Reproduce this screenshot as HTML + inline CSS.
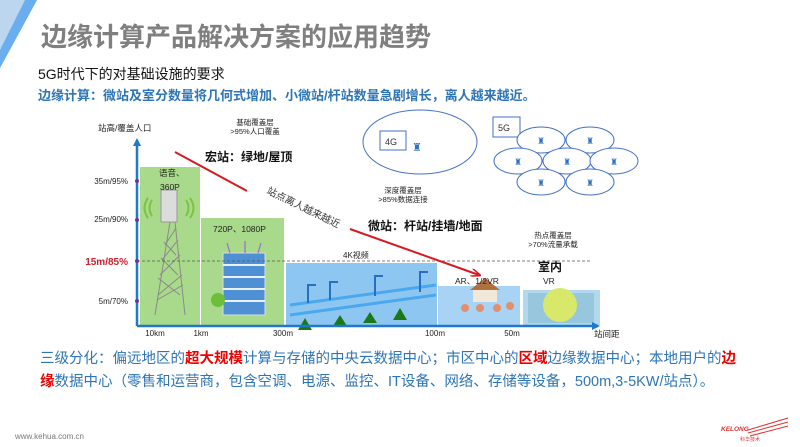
<!DOCTYPE html>
<html><head><meta charset="utf-8"><style>
html,body{margin:0;padding:0;background:#fff;}
svg{display:block;font-family:"Liberation Sans","Noto Sans CJK SC",sans-serif;}
</style></head><body>
<svg width="800" height="447" viewBox="0 0 800 447" xmlns="http://www.w3.org/2000/svg">
<defs>
<marker id="ab" markerWidth="8" markerHeight="8" refX="6" refY="4" orient="auto" markerUnits="userSpaceOnUse"><path d="M0,0 L8,4 L0,8 z" fill="#1f78c8"/></marker>
<marker id="ar" markerWidth="10" markerHeight="8" refX="8" refY="4" orient="auto" markerUnits="userSpaceOnUse"><path d="M0,0 L10,4 L0,8" fill="none" stroke="#d71920" stroke-width="1.5"/></marker>
</defs>
<polygon points="0,0 37,0 0,68" fill="#bcd6f0"/>
<polygon points="25,0 37,0 0,68 0,50" fill="#6aaef0"/>
<text x="41" y="46" font-size="26" font-weight="bold" fill="#7f7f7f">边缘计算产品解决方案的应用趋势</text>
<text x="38" y="79" font-size="14" fill="#111">5G时代下的对基础设施的要求</text>
<text x="38" y="100" font-size="13" font-weight="bold" fill="#2e75b6">边缘计算：微站及室分数量将几何式增加、小微站/杆站数量急剧增长，离人越来越近。</text>

<rect x="140" y="167" width="60" height="158" fill="#a9d98a"/>
<rect x="201" y="218" width="83" height="107" fill="#a9d98a"/>
<rect x="286" y="263" width="151" height="62" fill="#8ec6f2"/>
<rect x="438" y="286" width="82" height="39" fill="#a9d3f5"/>
<rect x="523" y="290" width="77" height="35" fill="#b3d8ee"/>
<g stroke="#8a8a8a" stroke-width="1" fill="none">
<line x1="170" y1="222" x2="155" y2="315"/><line x1="175" y1="222" x2="185" y2="315"/>
<path d="M158,295 L182,275 M157,300 L183,285 M160,275 L180,255 M162,260 L178,240 M165,245 L176,228 M180,295 L158,278 M178,275 L161,258 M176,255 L164,242"/>
</g>
<rect x="161" y="190" width="16" height="32" fill="#dcdcdc" stroke="#999"/>
<path d="M152,200 q-5,8 0,16 M148,198 q-7,10 0,20 M186,200 q5,8 0,16 M190,198 q7,10 0,20" stroke="#7dc241" stroke-width="2" fill="none"/>
<rect x="223" y="253" width="42" height="62" fill="#4f8fd4" stroke="#ddd"/>
<g stroke="#e8f0f8" stroke-width="2"><line x1="223" y1="265" x2="265" y2="265"/><line x1="223" y1="277" x2="265" y2="277"/><line x1="223" y1="289" x2="265" y2="289"/><line x1="223" y1="301" x2="265" y2="301"/></g>
<circle cx="218" cy="300" r="7" fill="#6cbf3a"/>
<path d="M230,253 l-3,-10 M245,253 l0,-12 M258,253 l3,-10" stroke="#9b6fc6" stroke-width="1.2"/>
<path d="M290,305 L436,285 M290,315 L436,295" stroke="#4aa8ee" stroke-width="3"/>
<g fill="#1a7a1a"><polygon points="305,318 298,330 312,330"/><polygon points="340,315 333,326 347,326"/><polygon points="370,312 363,323 377,323"/><polygon points="400,308 393,320 407,320"/></g>
<g stroke="#2a6fbf" stroke-width="2" fill="none"><path d="M308,303 v-18 h8 M330,300 v-18 h8 M375,296 v-20 h8 M420,292 v-20 h8"/></g>
<polygon points="470,290 485,278 500,290" fill="#b07040"/><rect x="473" y="290" width="24" height="12" fill="#f0e8d8"/>
<g fill="#e0906a"><circle cx="465" cy="308" r="4"/><circle cx="480" cy="308" r="4"/><circle cx="497" cy="308" r="4"/><circle cx="510" cy="306" r="4"/></g>
<rect x="528" y="293" width="66" height="30" fill="#8fc3d8" opacity="0.8"/>
<circle cx="560" cy="305" r="17" fill="#d7e86a"/>
<line x1="137" y1="261" x2="592" y2="261" stroke="#555" stroke-dasharray="3,2" stroke-width="0.8"/>
<line x1="137" y1="326" x2="137" y2="140" stroke="#1f78c8" stroke-width="2.5" marker-end="url(#ab)"/>
<line x1="137" y1="326" x2="598" y2="326" stroke="#1f78c8" stroke-width="2.5" marker-end="url(#ab)"/>
<g fill="#7030a0"><circle cx="137" cy="181" r="2"/><circle cx="137" cy="220" r="2"/><circle cx="137" cy="261" r="2"/><circle cx="137" cy="301" r="2"/></g>
<g font-size="8" fill="#222" text-anchor="end">
<text x="128" y="184">35m/95%</text><text x="128" y="222">25m/90%</text><text x="128" y="304">5m/70%</text>
</g>
<text x="128" y="265" font-size="10" font-weight="bold" fill="#d02030" text-anchor="end">15m/85%</text>
<text x="98" y="131" font-size="8.5" fill="#222">站高/覆盖人口</text>
<g font-size="8" fill="#222" text-anchor="middle">
<text x="155" y="336">10km</text><text x="201" y="336">1km</text><text x="283" y="336">300m</text><text x="435" y="336">100m</text><text x="512" y="336">50m</text>
</g>
<text x="594" y="337" font-size="8.5" fill="#222">站间距</text>
<g font-size="7.5" fill="#222" text-anchor="middle">
<text x="255" y="125">基础覆盖层</text><text x="255" y="134">&gt;95%人口覆盖</text>
<text x="403" y="193">深度覆盖层</text><text x="403" y="202">&gt;85%数据连接</text>
<text x="553" y="238">热点覆盖层</text><text x="553" y="247">&gt;70%流量承载</text>
</g>
<text x="205" y="161" font-size="12" font-weight="bold" fill="#111">宏站：绿地/屋顶</text>
<text x="368" y="230" font-size="12" font-weight="bold" fill="#111">微站：杆站/挂墙/地面</text>
<text x="538" y="271" font-size="12" font-weight="bold" fill="#111">室内</text>
<text x="159" y="176" font-size="8.5" fill="#222">语音、</text><text x="160" y="190" font-size="8.5" fill="#222">360P</text>
<text x="213" y="232" font-size="8.5" fill="#222">720P、1080P</text>
<text x="343" y="258" font-size="8" fill="#222">4K视频</text>
<text x="455" y="284" font-size="8.5" fill="#222">AR、1/2VR</text>
<text x="543" y="284" font-size="8.5" fill="#222">VR</text>
<text x="266" y="193" font-size="10" fill="#333" transform="rotate(26 266 193)">站点离人越来越近</text>
<line x1="175" y1="152" x2="247" y2="191" stroke="#d71920" stroke-width="2"/>
<line x1="350" y1="229" x2="479" y2="275" stroke="#d71920" stroke-width="2" marker-end="url(#ar)"/>
<ellipse cx="420" cy="142" rx="57" ry="32" fill="none" stroke="#4472c4" stroke-width="1"/>
<rect x="380" y="131" width="26" height="19" fill="#fff" stroke="#4472c4"/>
<text x="385" y="145" font-size="9" fill="#333">4G</text>
<text x="412" y="151" font-size="11" fill="#2e6fc0">♜</text>
<rect x="493" y="117" width="27" height="20" fill="#fff" stroke="#4472c4"/>
<text x="498" y="131" font-size="9" fill="#333">5G</text>
<g fill="#fff" stroke="#4472c4" stroke-width="1">
<ellipse cx="541" cy="140" rx="24" ry="13"/><ellipse cx="590" cy="140" rx="24" ry="13"/>
<ellipse cx="518" cy="161" rx="24" ry="13"/><ellipse cx="567" cy="161" rx="24" ry="13"/><ellipse cx="614" cy="161" rx="24" ry="13"/>
<ellipse cx="541" cy="182" rx="24" ry="13"/><ellipse cx="590" cy="182" rx="24" ry="13"/>
</g>
<g font-size="9" fill="#2e6fc0" text-anchor="middle">
<text x="541" y="144">♜</text><text x="590" y="144">♜</text><text x="518" y="165">♜</text><text x="567" y="165">♜</text><text x="614" y="165">♜</text><text x="541" y="186">♜</text><text x="590" y="186">♜</text>
</g>
<text x="40" y="363" font-size="14.5" fill="#2e75b6">三级分化：偏远地区的<tspan fill="#e00" font-weight="bold">超大规模</tspan>计算与存储的中央云数据中心；市区中心的<tspan fill="#e00" font-weight="bold">区域</tspan>边缘数据中心；本地用户的<tspan fill="#e00" font-weight="bold">边</tspan></text>
<text x="40" y="386" font-size="14.5" fill="#2e75b6"><tspan fill="#e00" font-weight="bold">缘</tspan>数据中心（零售和运营商，包含空调、电源、监控、IT设备、网络、存储等设备，500m,3-5KW/站点）。</text>
<text x="15" y="439" font-size="8" fill="#777">www.kehua.com.cn</text>
<text x="721" y="431" font-size="6.5" font-weight="bold" font-style="italic" fill="#e03030">KELONG</text>
<path d="M748,430 L788,418 M748,433 L788,422 M750,436 L788,426" stroke="#e03030" stroke-width="1"/>
<text x="740" y="441" font-size="5" fill="#e03030">科华技术</text>
</svg>
</body></html>
